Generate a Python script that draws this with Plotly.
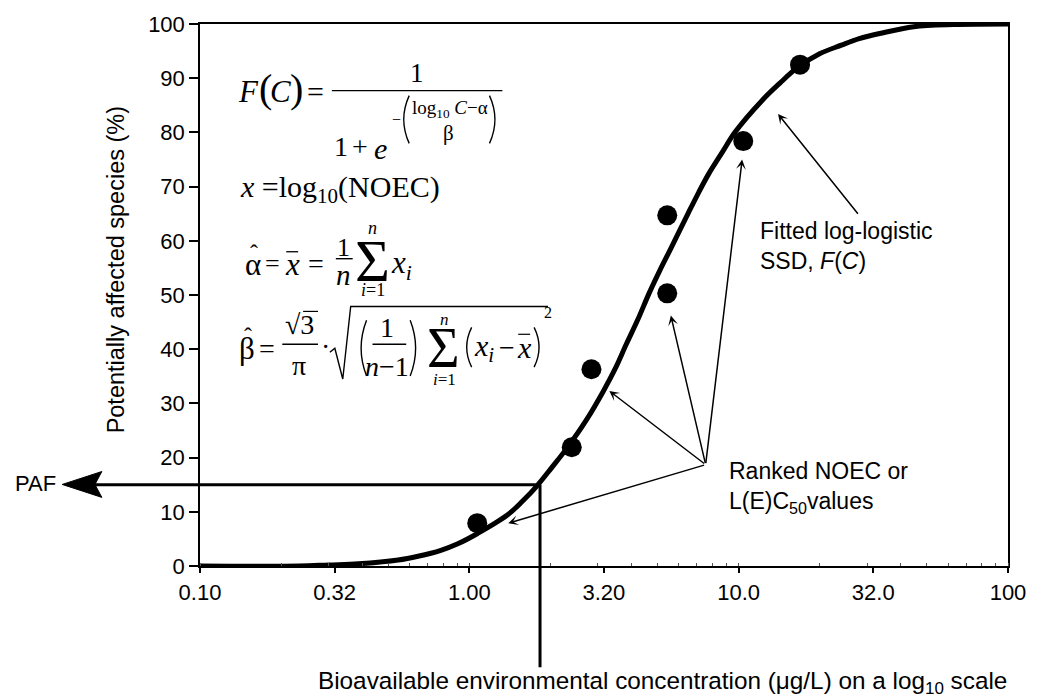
import numpy as np
import plotly.graph_objects as go

# ---------------- data ----------------
curve_conc = [0.10, 0.233, 0.301, 0.388, 0.544, 0.645, 0.784, 0.906, 1.073, 1.384, 1.571,
              1.784, 2.026, 2.300, 2.725, 3.148, 3.48, 3.825, 4.235, 4.648, 5.104, 5.602,
              6.525, 7.10, 7.730, 8.71, 9.716, 12.22, 14.23, 16.58, 19.97, 24.06, 28.03,
              33.78, 44.67, 62.70, 100.0]
curve_pct = [0.0, 0.0, 0.2, 0.4, 1.1, 1.8, 2.9, 4.1, 6.0, 9.4, 11.9,
             14.8, 18.2, 21.7, 27.0, 32.3, 36.4, 40.9, 45.6, 50.3, 54.6, 58.6,
             65.3, 68.9, 72.3, 76.4, 80.1, 85.9, 89.1, 92.0, 94.5, 96.1, 97.3,
             98.3, 99.5, 99.9, 100.0]

noec_conc = [1.07, 2.40, 2.84, 5.43, 5.43, 10.4, 16.9]
noec_pct = [7.9, 21.9, 36.3, 50.3, 64.7, 78.4, 92.5]

paf_conc = 1.83
paf_pct = 15.0

ranked_origin = (7.54, 18.7)
ranked_tips_conc = [1.395, 3.31, 5.60, 10.3]
ranked_tips_pct = [7.9, 32.3, 46.2, 75.0]
fitted_tail = (28.0, 64.7)
fitted_tip = (14.0, 83.4)

tick_vals = [0.1, 0.316, 1.0, 3.16, 10.0, 31.6, 100.0]
tick_text = ["0.10", "0.32", "1.00", "3.20", "10.0", "32.0", "100"]

# ---------------- layout geometry ----------------
W, H = 1038, 699
L, R, T, B = 200, 1015, 21, 566
PW, PH = R - L, B - T


def px(xp):
    return (xp - L) / PW


def py(yp):
    return (B - yp) / PH


SERIF = "Liberation Serif"
SANS = "Liberation Sans"

fig = go.Figure()

fig.add_trace(go.Scatter(x=curve_conc, y=curve_pct, mode="lines",
                         line=dict(color="black", width=5, shape="spline", smoothing=1.0),
                         hoverinfo="skip", showlegend=False))
fig.add_trace(go.Scatter(x=noec_conc, y=noec_pct, mode="markers",
                         marker=dict(color="black", size=20),
                         showlegend=False, cliponaxis=False))

annotations = []
shapes = []


def txt(s, xp, yp, size, xanchor="center", family=SERIF, angle=0, align="center"):
    annotations.append(dict(text=s, x=px(xp), y=py(yp), xref="paper", yref="paper",
                            xanchor=xanchor, yanchor="middle", showarrow=False,
                            textangle=angle, align=align,
                            font=dict(family=family, size=size, color="black")))


def hline(x0, x1, yp, w=1.4):
    shapes.append(dict(type="line", xref="paper", yref="paper", x0=px(x0), x1=px(x1),
                       y0=py(yp), y1=py(yp), line=dict(color="black", width=w)))


def paren(xt, yt, xc, yb, w=1.4):
    ym = (yt + yb) / 2
    path = f"M {px(xt)},{py(yt)} Q {px(xc)},{py(ym)} {px(xt)},{py(yb)}"
    shapes.append(dict(type="path", xref="paper", yref="paper", path=path,
                       line=dict(color="black", width=w)))


# ---------------- arrows ----------------
for cx, cy in zip(ranked_tips_conc, ranked_tips_pct):
    annotations.append(dict(x=np.log10(cx), y=cy, ax=np.log10(ranked_origin[0]), ay=ranked_origin[1],
                            xref="x", yref="y", axref="x", ayref="y", text="", showarrow=True,
                            arrowhead=3, arrowsize=1.1, arrowwidth=1.5, arrowcolor="black"))
annotations.append(dict(x=np.log10(fitted_tip[0]), y=fitted_tip[1], ax=np.log10(fitted_tail[0]),
                        ay=fitted_tail[1], xref="x", yref="y", axref="x", ayref="y", text="",
                        showarrow=True, arrowhead=3, arrowsize=1.1, arrowwidth=1.5,
                        arrowcolor="black"))
# PAF horizontal line (from the drop point to the left, outside the plot)
annotations.append(dict(x=np.log10(paf_conc), y=paf_pct, xref="x", yref="y", ax=-448, ay=0,
                        text="", showarrow=True, arrowhead=0, arrowwidth=3,
                        arrowcolor="black"))
# large barbed arrow head at the left end
shapes.append(dict(type="path", xref="paper", yref="paper",
                   path=(f"M {px(61)},{py(484)} L {px(101)},{py(471)} L {px(94)},{py(484)} "
                         f"L {px(101)},{py(497)} Z"),
                   fillcolor="black", line=dict(color="black", width=1)))
# vertical drop line
annotations.append(dict(x=np.log10(paf_conc), y=paf_pct, xref="x", yref="y", ax=0, ay=184,
                        text="", showarrow=True, arrowhead=0, arrowwidth=3, arrowcolor="black"))

# ---------------- labels ----------------
txt("PAF", 34, 483, 22, family=SANS)
txt("Ranked NOEC or<br>L(E)C<sub>50</sub>values", 732, 487, 23, xanchor="left",
    family=SANS, align="left")
txt("Fitted log-logistic<br>SSD, <i>F</i>(<i>C</i>)", 763, 244, 23, xanchor="left",
    family=SANS, align="left")
txt("Potentially affected species (%)", 115, 268, 23.5, family=SANS, angle=-90)
txt("Bioavailable environmental concentration (\u03bcg/L) on a log<sub>10</sub> scale",
    667, 683, 24.3, family=SANS)

# ---------------- equations ----------------
# F(C) = 1 / (1 + e^{-((log10 C - a)/b)})
txt("<i>F</i>", 249, 89, 31)
txt("(", 266, 86, 40)
txt("<i>C</i>", 281, 89, 31)
txt(")", 297, 86, 40)
txt("=", 317, 89, 30)
txt("1", 419, 70, 27)
hline(333, 505, 88)
txt("1", 342, 144, 28)
txt("+", 361, 144, 28)
txt("<i>e</i>", 382, 146, 30)
txt("\u2212", 398, 117, 16)
paren(411, 93, 400, 141)
txt("log<sub>10</sub> <i>C</i>\u2212\u03b1", 452, 106, 19)
txt("\u03b2", 451, 131, 21)
paren(492, 93, 503, 141)

# x = log10(NOEC)
txt("<i>x</i> =log<sub>10</sub>(NOEC)", 238, 187, 30, xanchor="left")

# alpha hat
txt("\u03b1", 253, 263, 31)
txt("\u02c6", 254, 251, 24)
txt("=", 273, 262, 26)
txt("<i>x</i>", 293, 263, 31)
hline(287, 299, 250, 1.3)
txt("=", 317, 262, 28)
txt("1", 345, 246, 26)
hline(337, 354, 257)
txt("<i>n</i>", 345, 273, 29)
txt("\u03a3", 374, 259, 60)
txt("<i>n</i>", 374, 226, 18)
txt("<i>i</i>=1", 374, 288, 18)
txt("<i>x<sub>i</sub></i>", 403, 263, 31)

# beta hat
txt("\u03b2", 247, 347, 31)
txt("\u02c6", 248, 335, 24)
txt("=", 268, 347, 28)
txt("\u221a3", 300, 323, 28)
hline(304, 319, 310, 1.2)
hline(283, 319, 343)
txt("\u03c0", 300, 364, 28)
txt("\u00b7", 327, 345, 28)
shapes.append(dict(type="path", xref="paper", yref="paper",
                   path=(f"M {px(331)},{py(351)} L {px(336)},{py(347)} L {px(344)},{py(378)} "
                         f"L {px(352)},{py(305)} L {px(551)},{py(305)}"),
                   line=dict(color="black", width=1.4)))
paren(368, 319, 357, 375)
txt("1", 389, 326, 28)
hline(374, 408, 343)
txt("<i>n</i>\u22121", 389, 365, 28)
paren(412, 319, 423, 375)
txt("\u03a3", 446, 347, 56)
txt("<i>n</i>", 447, 318, 17)
txt("<i>i</i>=1", 447, 378, 17)
paren(474, 326, 464, 366)
txt("<i>x<sub>i</sub></i>", 486, 347, 30)
txt("\u2212", 510, 346, 28)
txt("<i>x</i>", 527, 346, 30)
hline(521, 533, 333, 1.2)
paren(537, 326, 547, 366)
txt("2", 551, 311, 16)

axis_font = dict(family=SANS, size=22, color="black")
fig.update_layout(
    width=W, height=H,
    margin=dict(l=L, r=W - R, t=T, b=H - B, pad=0),
    paper_bgcolor="white", plot_bgcolor="white",
    showlegend=False,
    xaxis=dict(type="log", range=[-1, 2], tickvals=tick_vals, ticktext=tick_text,
               ticks="outside", ticklen=5, tickwidth=1.5, tickcolor="black",
               showline=True, linecolor="black", linewidth=1.5, mirror=True,
               showgrid=False, zeroline=False, tickfont=axis_font, ticklabelstandoff=1,
               minor=dict(ticks="inside", ticklen=3, tickwidth=1, tickcolor="#555555",
                          dtick="D1", showgrid=False)),
    yaxis=dict(range=[0, 100], tickvals=list(range(0, 101, 10)),
               ticks="outside", ticklen=9, tickwidth=1.5, tickcolor="black",
               showline=True, linecolor="black", linewidth=1.5, mirror=True,
               showgrid=False, zeroline=False, tickfont=axis_font),
    annotations=annotations,
    shapes=shapes,
)

fig.write_html("out.html")
